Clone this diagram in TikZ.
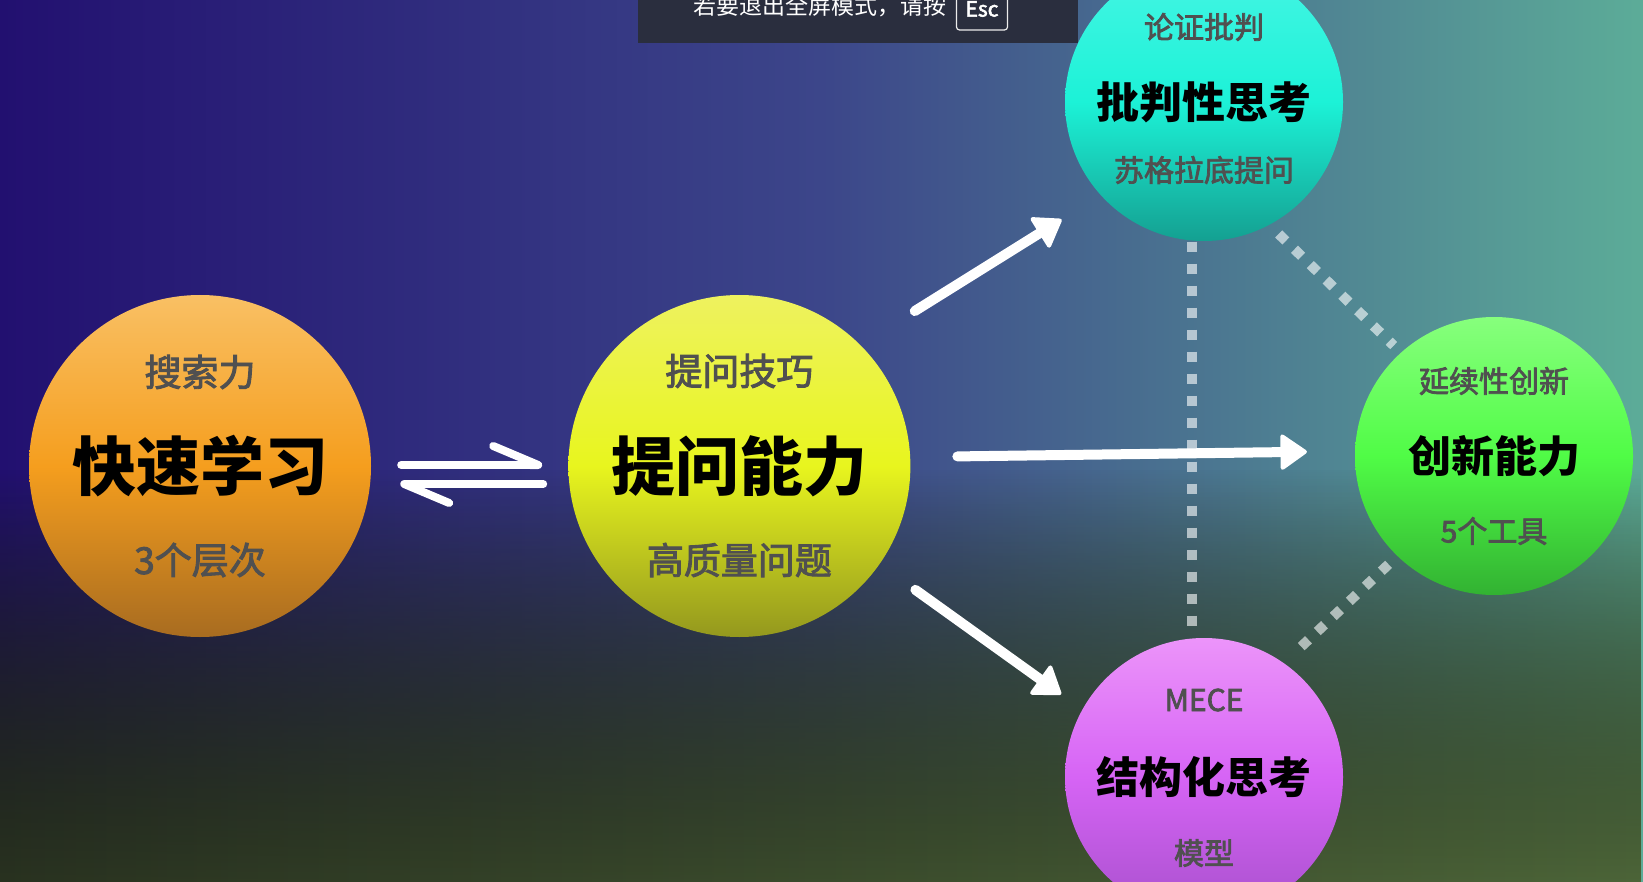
\documentclass[tikz,border=0pt]{standalone}
\usepackage{fontspec}
\setmainfont{Noto Sans CJK SC}
\newfontfamily\subfont[FakeBold=2.5]{Noto Sans CJK SC}
\usetikzlibrary{positioning,arrows.meta,fadings}

\definecolor{bgindigo}{RGB}{34,16,112}
\definecolor{bgblue}{RGB}{60,70,138}
\definecolor{bgteal}{RGB}{92,172,152}
\definecolor{bgmossl}{RGB}{44,54,34}
\definecolor{bgmossr}{RGB}{82,108,60}
\definecolor{barfill}{RGB}{42,46,62}
\definecolor{subgray}{RGB}{80,80,80}
\definecolor{orangetop}{RGB}{249,192,100}
\definecolor{orangemid}{RGB}{245,158,30}
\definecolor{orangebot}{RGB}{168,108,32}
\definecolor{yellowtop}{RGB}{238,242,95}
\definecolor{yellowmid}{RGB}{232,245,30}
\definecolor{yellowbot}{RGB}{148,152,30}
\definecolor{cyantop}{RGB}{70,245,228}
\definecolor{cyanmid}{RGB}{28,242,215}
\definecolor{cyanbot}{RGB}{20,160,145}
\definecolor{greentop}{RGB}{135,255,125}
\definecolor{greenmid}{RGB}{80,252,70}
\definecolor{greenbot}{RGB}{50,178,50}
\definecolor{purpletop}{RGB}{236,148,250}
\definecolor{purplemid}{RGB}{214,100,245}
\definecolor{purplebot}{RGB}{168,80,205}

\begin{document}
\begin{tikzpicture}[x=1pt, y=-1pt]
    % 定义节点样式
    \tikzstyle{bigball} = [circle, minimum size=342pt, inner sep=0pt, font=\bfseries\fontsize{64}{64}\selectfont]
    \tikzstyle{smallball} = [circle, minimum size=278pt, inner sep=0pt, font=\bfseries\fontsize{43}{43}\selectfont]
    \tikzstyle{bigsub} = [text=subgray, inner sep=0pt, font=\subfont\fontsize{37}{37}\selectfont]
    \tikzstyle{smallsub} = [text=subgray, inner sep=0pt, font=\subfont\fontsize{30}{30}\selectfont]
    \tikzstyle{ballorange} = [top color=orangetop, bottom color=orangebot, middle color=orangemid]
    \tikzstyle{ballyellow} = [top color=yellowtop, bottom color=yellowbot, middle color=yellowmid]
    \tikzstyle{ballcyan} = [top color=cyantop, bottom color=cyanbot, middle color=cyanmid]
    \tikzstyle{ballgreen} = [top color=greentop, bottom color=greenbot, middle color=greenmid]
    \tikzstyle{ballpurple} = [top color=purpletop, bottom color=purplebot, middle color=purplemid]
    \tikzstyle{escbar} = [rectangle, fill=barfill, minimum width=440pt, minimum height=43pt, inner sep=0pt]
    \tikzstyle{bartext} = [text=white, inner sep=0pt, font=\fontsize{23}{23}\selectfont]
    \tikzstyle{esckey} = [rectangle, draw=white!85!gray, line width=1.2pt, rounded corners=3pt, minimum width=51pt, minimum height=42pt, text=white, font=\subfont\fontsize{21}{21}\selectfont]
    \tikzstyle{bigarrow} = [white, line width=10pt, line cap=round, -{Triangle[round, length=28pt, width=38pt, line width=4pt]}]
    \tikzstyle{harpoonline} = [white, line width=8pt, line cap=round, -{Straight Barb[harpoon, round, length=45pt, width=38pt]}]
    \tikzstyle{dotline} = [white, opacity=0.6, line width=10pt, dash pattern=on 10pt off 12pt]

    % 背景
    \useasboundingbox (0,0) rectangle (1643,882);
    \clip (0,0) rectangle (1643,882);
    \fill [left color=bgindigo, right color=bgteal, middle color=bgblue] (0,0) rectangle (1643,882);
    \fill [left color=bgmossl, right color=bgmossr, path fading=north] (0,470) rectangle (1643,915);

    % 顶部提示条
    \node [escbar] (bar) at (858,21.5) {};
    \node [bartext] (bartxt) at (820,6) {若要退出全屏模式，请按};
    \node [esckey] (esc) at (982,9) {Esc};

    % 绘制圆形节点
    \node [bigball, ballorange] (learn) at (200,466) {快速学习};
    \node [bigball, ballyellow, right=197pt of learn] (ask) {提问能力};
    \node [smallball, ballcyan] (crit) at (1204,102) {批判性思考};
    \node [smallball, ballgreen] (innov) at (1494,456) {创新能力};
    \node [smallball, ballpurple] (struct) at (1204,777) {结构化思考};

    \node [bigsub, yshift=94pt] (learn-top) at (learn) {搜索力};
    \node [bigsub, yshift=-94pt] (learn-bot) at (learn) {3个层次};
    \node [bigsub, yshift=95pt] (ask-top) at (ask) {提问技巧};
    \node [bigsub, yshift=-94pt] (ask-bot) at (ask) {高质量问题};
    \node [smallsub, yshift=75pt] (crit-top) at (crit) {论证批判};
    \node [smallsub, yshift=-68pt] (crit-bot) at (crit) {苏格拉底提问};
    \node [smallsub, yshift=75pt] (innov-top) at (innov) {延续性创新};
    \node [smallsub, yshift=-75pt] (innov-bot) at (innov) {5个工具};
    \node [smallsub, yshift=77pt] (struct-top) at (struct) {MECE};
    \node [smallsub, yshift=-76pt] (struct-bot) at (struct) {模型};

    % 虚线连接
    \draw [dotline, shorten <=1pt, shorten >=1pt] (crit.265) -- (struct.95);
    \draw [dotline, shorten <=13pt, shorten >=10pt] (crit.298) -- (innov.132);
    \draw [dotline, shorten <=12pt, shorten >=12pt] (innov.226) -- (struct.55);

    % 绘制箭头
    \draw [harpoonline, shorten <=30pt, shorten >=26pt] ([yshift=1pt]learn.east) -- ([yshift=1pt]ask.west);
    \draw [harpoonline, shorten <=25pt, shorten >=29pt] ([yshift=-18pt]ask.west) -- ([yshift=-18pt]learn.east);
    \draw [bigarrow, shorten <=64pt, shorten >=46pt] (ask.45) -- (crit.222);
    \draw [bigarrow, shorten <=47pt, shorten >=48pt] (ask.3) -- (innov.178);
    \draw [bigarrow, shorten <=44pt, shorten >=26pt] (ask.325) -- (struct.151);
\end{tikzpicture}
\end{document}
